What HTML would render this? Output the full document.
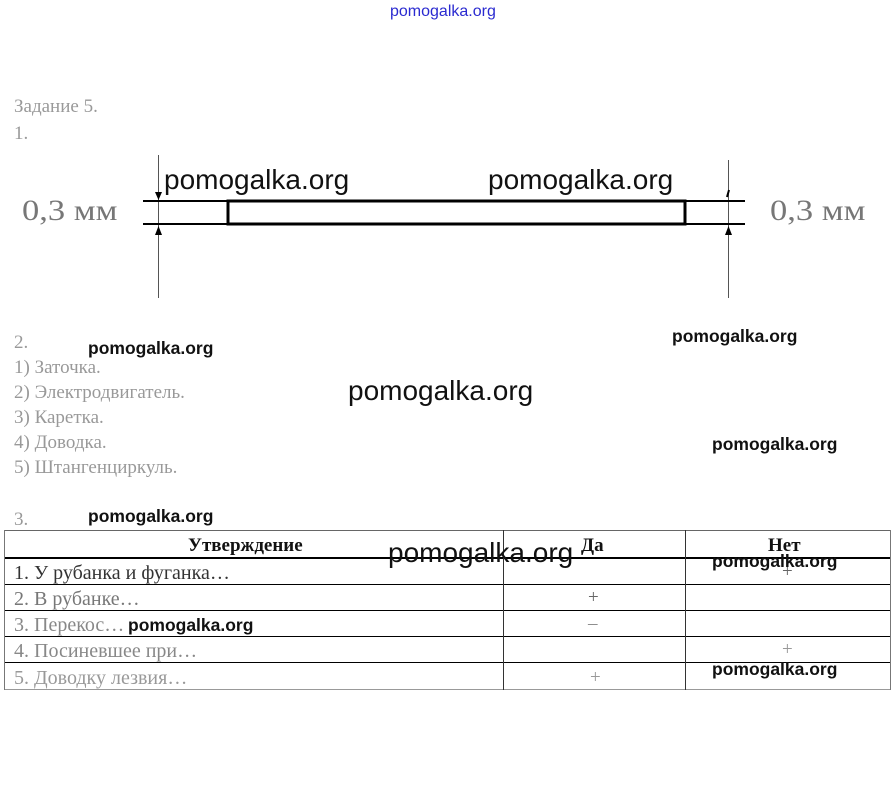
<!DOCTYPE html>
<html><head><meta charset="utf-8"><style>
body{margin:0;width:895px;height:785px;background:#fff;position:relative;overflow:hidden;font-family:"Liberation Serif",serif;}
.t{position:absolute;white-space:nowrap;color:#999;font-size:19px;line-height:1;}
.w{position:absolute;white-space:nowrap;font-family:"Liberation Sans",sans-serif;font-weight:bold;color:#111;line-height:1;}
.d{position:absolute;background:#000;}
</style></head><body>
<div style="position:absolute;left:390px;top:3px;font-family:'Liberation Sans',sans-serif;font-size:16px;color:#2a2ad0;">pomogalka.org</div>

<div class="t" style="left:14px;top:97px;">Задание 5.</div>
<div class="t" style="left:14px;top:124px;">1.</div>

<svg style="position:absolute;left:0;top:0" width="895" height="320">
<line x1="158.5" y1="155" x2="158.5" y2="298" stroke="#555" stroke-width="1"/>
<line x1="728.5" y1="160" x2="728.5" y2="298" stroke="#555" stroke-width="1"/>
<line x1="143" y1="201" x2="745" y2="201" stroke="#000" stroke-width="2"/>
<line x1="143" y1="224" x2="745" y2="224" stroke="#000" stroke-width="2"/>
<rect x="228" y="201" width="457" height="23" fill="none" stroke="#000" stroke-width="3"/>
<polygon points="155,192 162,192 158.5,200" fill="#000"/>
<polygon points="155,235 162,235 158.5,226" fill="#000"/>
<polygon points="725,235 732,235 728.5,226" fill="#000"/>
<line x1="729" y1="190" x2="727" y2="197" stroke="#000" stroke-width="2"/>
</svg>
<div class="t" style="left:22px;top:196px;font-size:30px;color:#777;transform:scaleX(1.15);transform-origin:left;">0,3 мм</div>
<div class="t" style="left:770px;top:196px;font-size:30px;color:#777;transform:scaleX(1.15);transform-origin:left;">0,3 мм</div>
<div class="w" style="left:164px;top:166px;font-size:28px;font-weight:normal;">pomogalka.org</div>
<div class="w" style="left:488px;top:166px;font-size:28px;font-weight:normal;">pomogalka.org</div>

<div class="t" style="left:14px;top:333px;">2.</div>
<div class="t" style="left:14px;top:358px;">1) Заточка.</div>
<div class="t" style="left:14px;top:383px;">2) Электродвигатель.</div>
<div class="t" style="left:14px;top:408px;">3) Каретка.</div>
<div class="t" style="left:14px;top:433px;">4) Доводка.</div>
<div class="t" style="left:14px;top:458px;">5) Штангенциркуль.</div>
<div class="t" style="left:14px;top:510px;">3.</div>

<div class="w" style="left:88px;top:340px;font-size:17.5px;">pomogalka.org</div>
<div class="w" style="left:672px;top:328px;font-size:17.5px;">pomogalka.org</div>
<div class="w" style="left:348px;top:377px;font-size:28px;font-weight:normal;">pomogalka.org</div>
<div class="w" style="left:712px;top:436px;font-size:17.5px;">pomogalka.org</div>
<div class="w" style="left:88px;top:508px;font-size:17.5px;">pomogalka.org</div>

<!-- table -->
<div class="d" style="left:4px;top:530px;width:887px;height:1px;background:#666"></div>
<div class="d" style="left:4px;top:557px;width:887px;height:2px;"></div>
<div class="d" style="left:4px;top:584px;width:887px;height:1px;"></div>
<div class="d" style="left:4px;top:610px;width:887px;height:1px;"></div>
<div class="d" style="left:4px;top:636px;width:887px;height:1px;"></div>
<div class="d" style="left:4px;top:662px;width:887px;height:1px;"></div>
<div class="d" style="left:4px;top:689px;width:887px;height:1px;background:#999"></div>
<div class="d" style="left:4px;top:530px;width:1px;height:160px;background:#777"></div>
<div class="d" style="left:503px;top:530px;width:1px;height:160px;background:#333"></div>
<div class="d" style="left:685px;top:530px;width:1px;height:160px;background:#333"></div>
<div class="d" style="left:890px;top:530px;width:1px;height:160px;background:#777"></div>

<div class="t" style="left:188px;top:536px;color:#111;font-weight:bold;">Утверждение</div>
<div class="t" style="left:581px;top:536px;color:#111;font-weight:bold;">Да</div>
<div class="t" style="left:768px;top:536px;color:#111;font-weight:bold;">Нет</div>
<div class="t" style="left:14px;top:563px;color:#333;font-size:20px;">1. У рубанка и фуганка…</div>
<div class="t" style="left:14px;top:589px;color:#777;font-size:20px;">2. В рубанке…</div>
<div class="t" style="left:14px;top:615px;color:#888;font-size:20px;">3. Перекос…</div>
<div class="t" style="left:14px;top:641px;color:#888;font-size:20px;">4. Посиневшее при…</div>
<div class="t" style="left:14px;top:668px;color:#999;font-size:20px;">5. Доводку лезвия…</div>
<div class="t" style="left:782px;top:562px;color:#666;">+</div>
<div class="t" style="left:588px;top:588px;color:#666;">+</div>
<div class="t" style="left:588px;top:614px;color:#888;">–</div>
<div class="t" style="left:782px;top:640px;color:#999;">+</div>
<div class="t" style="left:590px;top:668px;color:#999;">+</div>

<div class="w" style="left:388px;top:539px;font-size:28px;font-weight:normal;">pomogalka.org</div>
<div class="w" style="left:712px;top:553px;font-size:17.5px;">pomogalka.org</div>
<div class="w" style="left:128px;top:617px;font-size:17.5px;">pomogalka.org</div>
<div class="w" style="left:712px;top:661px;font-size:17.5px;">pomogalka.org</div>
</body></html>
